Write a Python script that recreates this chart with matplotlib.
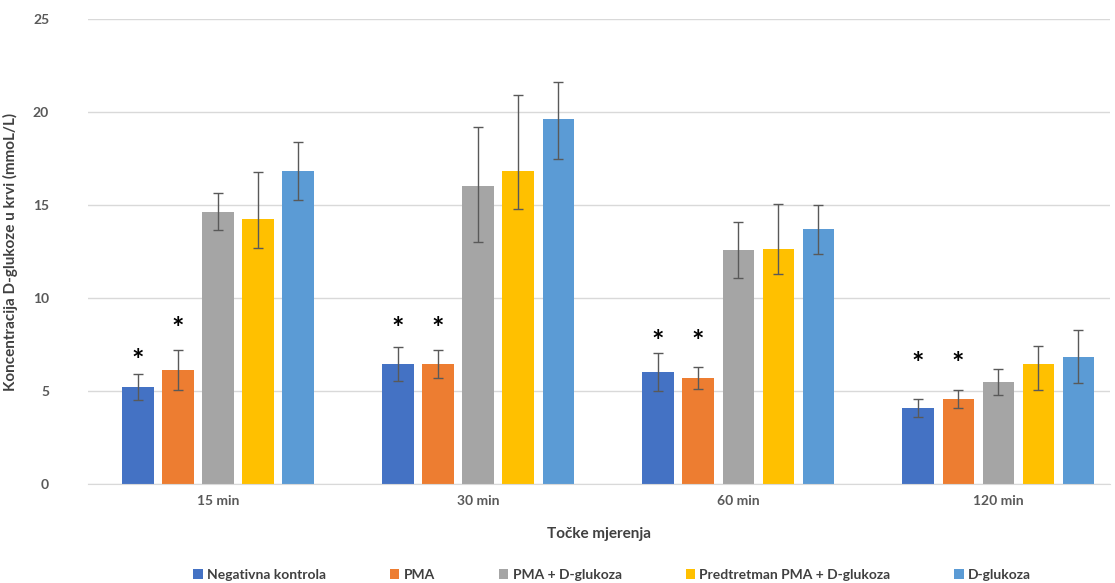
import matplotlib.pyplot as plt
import numpy as np

# Data
categories = ["15 min", "30 min", "60 min", "120 min"]
series = ["Negativna kontrola", "PMA", "PMA + D-glukoza",
          "Predtretman PMA + D-glukoza", "D-glukoza"]
colors = ["#4472C4", "#ED7D31", "#A5A5A5", "#FFC000", "#5B9BD5"]

neg_kontrola = [5.2, 6.45, 6.02, 4.1]
pma = [6.13, 6.45, 5.7, 4.57]
pma_glukoza = [14.6, 16.0, 12.58, 5.48]
predtretman = [14.23, 16.83, 12.63, 6.44]
d_glukoza = [16.83, 19.6, 13.7, 6.83]

# error bars (lower, upper)
err_neg = ([0.7, 0.92, 1.03, 0.48], [0.7, 0.92, 1.03, 0.48])
err_pma = ([1.08, 0.75, 0.6, 0.48], [1.08, 0.75, 0.6, 0.48])
err_pma_glukoza = ([0.95, 3.0, 1.5, 0.72], [1.05, 3.17, 1.5, 0.72])
err_predtretman = ([1.54, 2.05, 1.34, 1.4], [2.53, 4.1, 2.42, 0.98])
err_d_glukoza = ([1.57, 2.15, 1.34, 1.38], [1.57, 2.04, 1.29, 1.47])

# asterisk heights (blue, orange) per group
star_neg = [6.6, 8.35, 7.65, 6.45]
star_pma = [8.35, 8.35, 7.65, 6.45]

values = [neg_kontrola, pma, pma_glukoza, predtretman, d_glukoza]
errors = [err_neg, err_pma, err_pma_glukoza, err_predtretman, err_d_glukoza]

plt.rcParams["font.family"] = ["Lato", "DejaVu Sans"]

fig = plt.figure(figsize=(11.15, 5.83), dpi=100)
ax = fig.add_axes([0.0789, 0.1698, 0.9166, 0.7976])

x = np.arange(len(categories))
width = 0.12
step = 0.154
offsets = (np.arange(len(series)) - 2) * step

for i, (name, vals, errs, col) in enumerate(zip(series, values, errors, colors)):
    ax.bar(x + offsets[i], vals, width=width, color=col, label=name, zorder=2)
    ax.errorbar(x + offsets[i], vals, yerr=np.array(errs), fmt="none", ecolor="#595959",
                elinewidth=1, capsize=3.5, capthick=1, zorder=3)

for j in range(len(categories)):
    ax.text(x[j] + offsets[0], star_neg[j], "*", ha="center", va="center",
            fontsize=21, fontweight="bold", color="black")
    ax.text(x[j] + offsets[1], star_pma[j], "*", ha="center", va="center",
            fontsize=21, fontweight="bold", color="black")

ax.set_ylim(0, 25)
ax.set_yticks([0, 5, 10, 15, 20, 25])
ax.set_xlim(-0.5, 3.43)
ax.set_xticks(x)
ax.set_xticklabels(categories)
ax.grid(axis="y", color="#d9d9d9", linewidth=1, zorder=0)
ax.set_axisbelow(True)
for s in ["top", "right", "left"]:
    ax.spines[s].set_visible(False)
ax.spines["bottom"].set_color("#d9d9d9")
ax.tick_params(length=0, labelsize=10, labelcolor="#595959", pad=8)
for lbl in ax.get_xticklabels() + ax.get_yticklabels():
    lbl.set_fontweight("bold")
ax.tick_params(axis="y", pad=28)

ax.set_xlabel("Točke mjerenja", fontsize=11, fontweight="bold", color="#404040", labelpad=14)
ax.set_ylabel("Koncentracija D-glukoze u krvi (mmoL/L)", fontsize=11,
              fontweight="bold", color="#404040")
ax.yaxis.set_label_coords(-0.0685, 0.5)

leg = fig.legend(loc="center", bbox_to_anchor=(0.549, 0.014), ncol=5, frameon=False,
                 fontsize=10, handlelength=0.7, handleheight=0.7, handletextpad=0.3,
                 columnspacing=4.6)
for t in leg.get_texts():
    t.set_color("#404040")
    t.set_fontweight("bold")

fig.savefig("out.png", dpi=100)
